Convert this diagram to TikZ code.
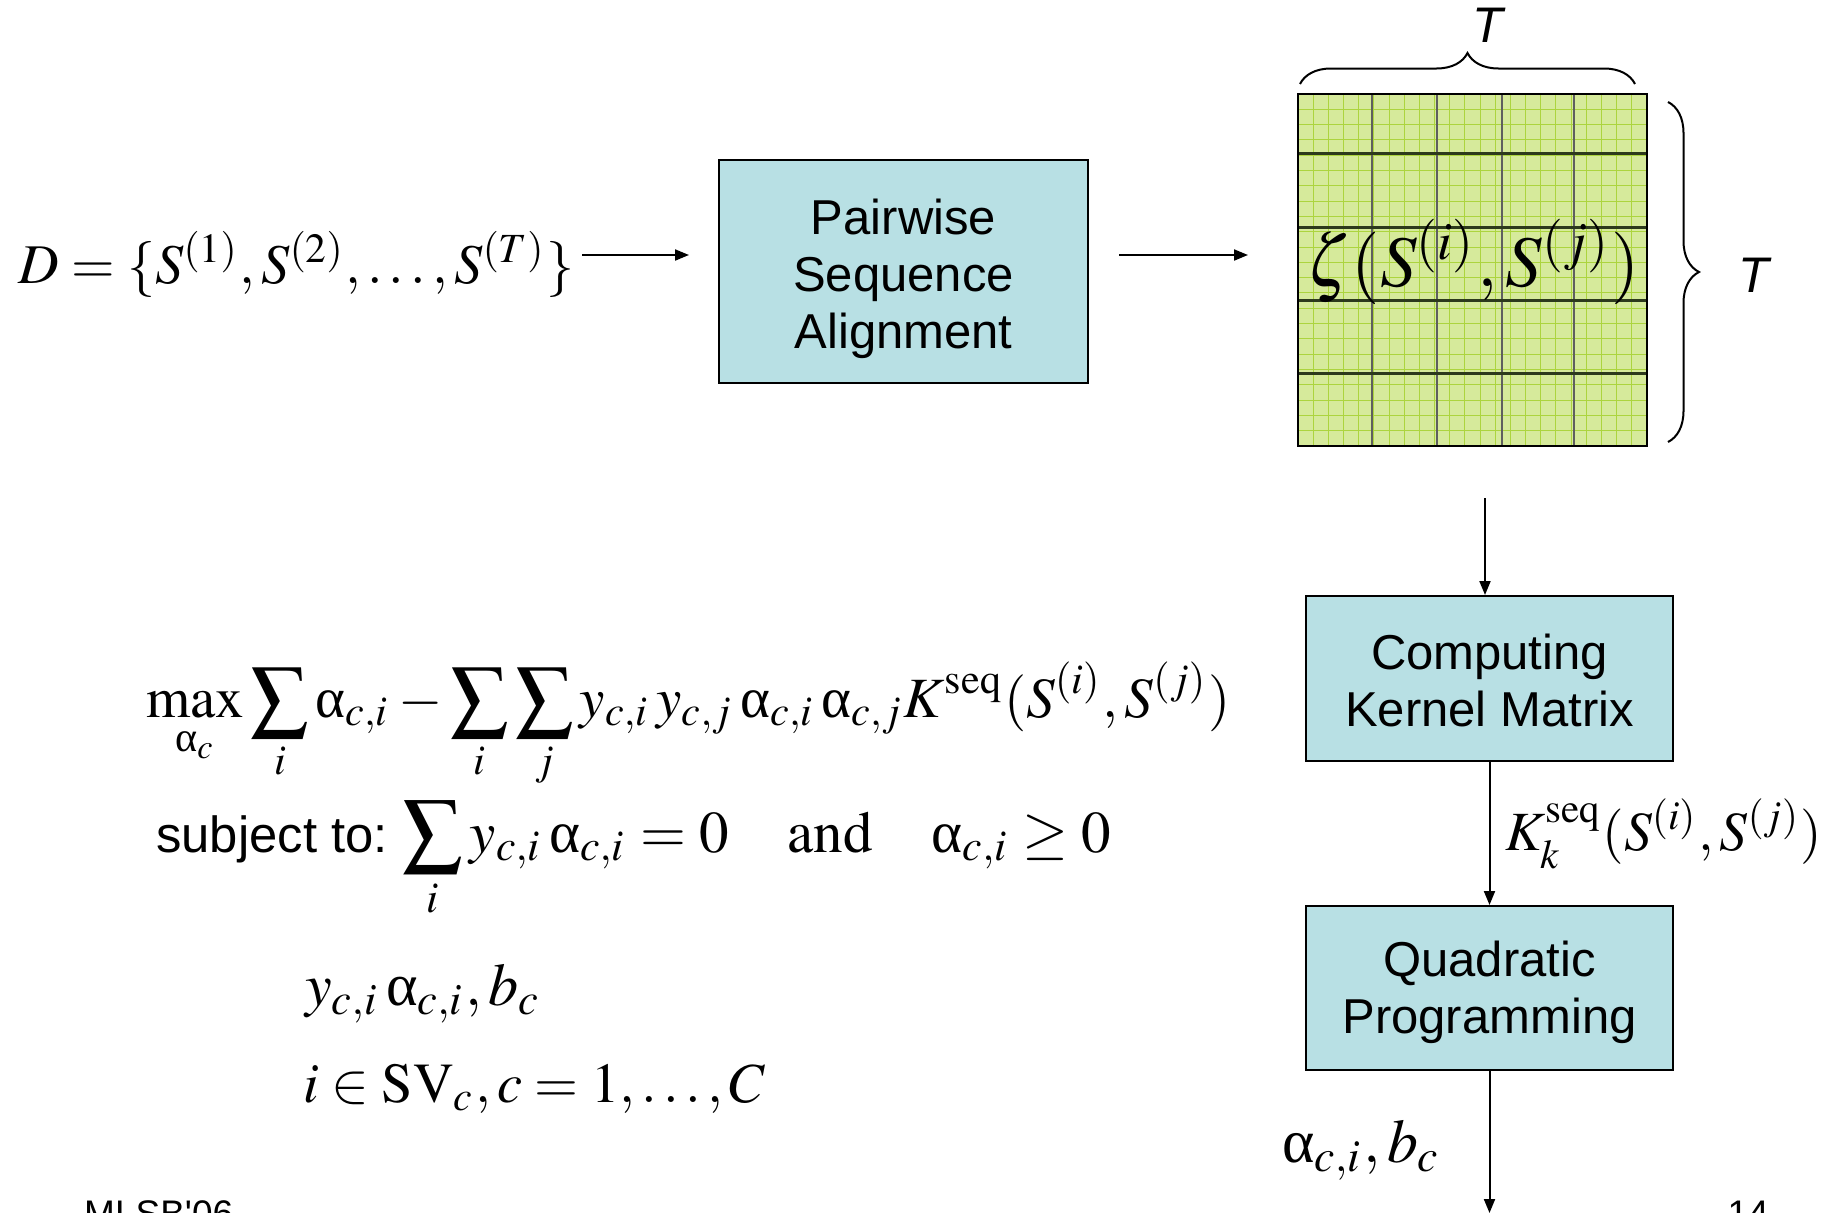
\documentclass[tikz,border=0pt]{standalone}
\usepackage{amsmath}
\usepackage{mathptmx}
\usepackage[no-math]{fontspec}
\setmainfont{Liberation Serif}
\setsansfont{Liberation Sans}
\usepackage{graphicx}
\usetikzlibrary{arrows.meta,decorations.pathreplacing}
\newcommand{\ua}{\text{\rmfamily\upshape α}}
\definecolor{boxblue}{RGB}{184,224,228}
\definecolor{matfill}{RGB}{214,234,155}
\definecolor{matfine}{RGB}{172,212,62}
\definecolor{matdark}{RGB}{45,58,28}
\definecolor{matgray}{RGB}{95,95,95}
\tikzset{
  procbox/.style={draw=black, line width=2pt, fill=boxblue, align=center, inner sep=0pt,
    font=\fontsize{49}{57}\selectfont\sffamily},
  arr/.style={-{Triangle[length=14pt,width=11pt]}, line width=2pt},
  bracestyle/.style={decorate, decoration={brace, amplitude=31pt}, line width=2pt},
  biglabel/.style={font=\fontsize{50}{60}\selectfont\sffamily\itshape, inner sep=0pt},
  footer/.style={font=\fontsize{37}{44}\selectfont\sffamily, inner sep=0pt},
  formula/.style={inner sep=0pt}
}
\begin{document}
\begin{tikzpicture}[x=1pt,y=-1pt]
\useasboundingbox (0,0) rectangle (1837,1213);
% input set
\node[formula, anchor=base west] (Dform) at (18,283)
  {\resizebox{556pt}{!}{$D=\{S^{(1)},S^{(2)},\ldots,S^{(T)}\}$}};
% boxes
\node[procbox, minimum width=369pt, minimum height=223pt] (pair) at (903.5,271.5)
  {\rule{0pt}{50.6pt}Pairwise\\Sequence\\Alignment};
\node[procbox, minimum width=367pt, minimum height=165pt] (comp) at (1489.5,678.5)
  {\rule{0pt}{39.7pt}Computing\\Kernel Matrix};
\node[procbox, minimum width=367pt, minimum height=164pt] (quad) at (1489.5,988)
  {\rule{0pt}{45pt}Quadratic\\Programming};
% matrix
\node[draw=none, inner sep=0pt, minimum width=349pt, minimum height=352pt] (mat) at (1472.5,270) {};
\fill[matfill] (mat.south west) rectangle (mat.north east);
\foreach \i in {1,...,22}{
  \draw[matfine, line width=1pt] ({1298+\i*349/23},94) -- ({1298+\i*349/23},446);
  \draw[matfine, line width=1pt] (1298,{94+\i*352/23}) -- (1647,{94+\i*352/23});
}
\foreach \x in {1372,1437,1502,1574}{
  \draw[matgray, line width=2.5pt] (\x,94) -- (\x,446);
}
\foreach \y in {153,227,300,373}{
  \draw[matdark, line width=3pt] (1298,\y) -- (1647,\y);
}
\draw[black, line width=2.5pt] (mat.south west) rectangle (mat.north east);
\node[formula] (zeta) at (1473.5,262)
  {\resizebox{333pt}{!}{$\zeta(S^{(i)},S^{(j)})$}};
% braces
\coordinate (tb1) at (1300,84);
\coordinate (tb2) at (1635,84);
\draw[bracestyle] (tb1) -- (tb2);
\node[biglabel] (Ttop) at (1488,25) {T};
\coordinate (rb1) at (1668,102);
\coordinate (rb2) at (1668,442);
\draw[bracestyle] (rb1) -- (rb2);
\node[biglabel] (Tright) at (1754,275) {T};
% connectors
\coordinate (a1s) at (582,255);
\coordinate (a1e) at (689,255);
\draw[arr] (a1s) -- (a1e);
\coordinate (a2s) at (1119,255);
\coordinate (a2e) at (1248,255);
\draw[arr] (a2s) -- (a2e);
\coordinate (a3s) at (1485,498);
\draw[arr] (a3s) -- (a3s |- comp.north);
\draw[arr] (comp.south) -- (quad.north);
\coordinate (a5e) at (1489.5,1213);
\draw[arr] (quad.south) -- (a5e);
% labels on connectors
\node[formula, anchor=base west] (Klab) at (1505,850)
  {\resizebox{317pt}{!}{$K_k^{\mathrm{seq}}(S^{(i)},S^{(j)})$}};
\node[formula, anchor=base west] (alab) at (1282,1162)
  {\resizebox{159pt}{!}{$\ua_{c,i},b_c$}};
% optimisation formulas
\node[formula, anchor=base west] (f1) at (146,717)
  {\resizebox{1084pt}{!}{$\displaystyle \max_{\ua_c}\sum_i\ua_{c,i}-\sum_i\sum_j y_{c,i}\,y_{c,j}\,\ua_{c,i}\,\ua_{c,j}K^{\mathrm{seq}}(S^{(i)},S^{(j)})$}};
\node[formula, anchor=base west] (f2) at (156,852)
  {\resizebox{955pt}{!}{$\displaystyle \mbox{\sffamily\fontsize{8.6}{10}\selectfont subject to:\,}\sum_i y_{c,i}\,\ua_{c,i}=0\quad\mathrm{and}\quad\ua_{c,i}\ge 0$}};
\node[formula, anchor=base west] (f3) at (305,1005)
  {\resizebox{236pt}{!}{$y_{c,i}\,\ua_{c,i},b_c$}};
\node[formula, anchor=base west] (f4) at (303,1102)
  {\resizebox{462pt}{!}{$i\in\mathrm{SV}_c,c=1,\ldots,C$}};
% footer
\node[footer, anchor=base west] (foot1) at (84,1226) {MLSB\textquotesingle 06};
\node[footer, anchor=base east] (foot2) at (1769,1226) {14};
\end{tikzpicture}
\end{document}
